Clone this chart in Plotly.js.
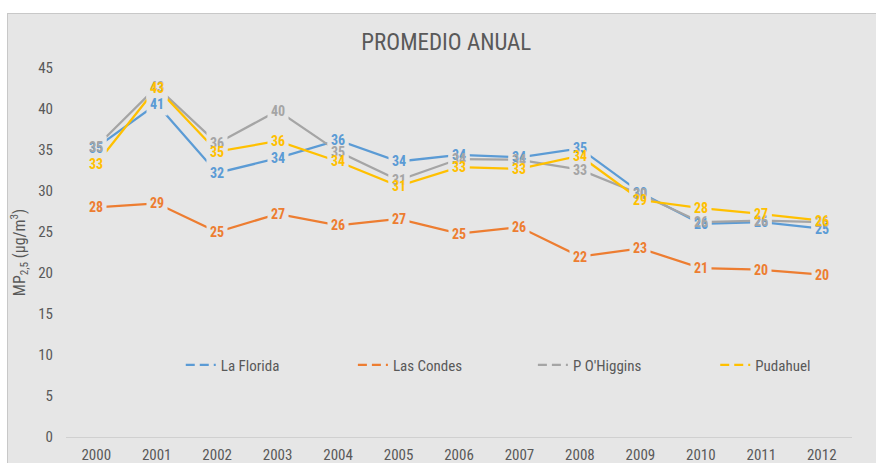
<!DOCTYPE html>
<html>
<head>
<meta charset="utf-8">
<script src="https://cdn.plot.ly/plotly-3.0.1.min.js"></script>
<style>
  html, body { margin: 0; padding: 0; background: #ffffff; }
  #chart { position: absolute; left: 7px; top: 13px; width: 868px; height: 449px;
           border-left: 1px solid #c8c8c8; border-top: 1px solid #c8c8c8; background: #e6e6e6; }
</style>
</head>
<body>
<div id="chart"></div>
<script>
// ---- data ----
const years = ["2000","2001","2002","2003","2004","2005","2006","2007","2008","2009","2010","2011","2012"];
const seriesNames = ["La Florida", "Las Condes", "P O'Higgins", "Pudahuel"];
const laFlorida  = [35.3, 40.6, 32.2, 34.0, 36.2, 33.6, 34.4, 34.1, 35.2, 29.8, 26.0, 26.2, 25.4];
const lasCondes  = [28.0, 28.5, 25.0, 27.2, 25.8, 26.6, 24.8, 25.6, 22.0, 23.0, 20.6, 20.4, 19.8];
const pOHiggins  = [35.4, 42.7, 35.8, 39.8, 34.8, 31.3, 33.9, 33.8, 32.6, 29.6, 26.2, 26.4, 26.2];
const pudahuel   = [33.3, 42.6, 34.8, 36.1, 33.6, 30.6, 32.9, 32.7, 34.3, 28.9, 27.9, 27.2, 26.4];
const yTicks = [0, 5, 10, 15, 20, 25, 30, 35, 40, 45];

// ---- style ----
const colors = ["#5b9bd5", "#ed7d31", "#a5a5a5", "#ffc000"];
const values = [laFlorida, lasCondes, pOHiggins, pudahuel];
const FONT = "'Liberation Sans Narrow', 'Arial Narrow', 'Roboto Condensed', 'Open Sans', sans-serif";
const BG = "#e6e6e6";
const legendIds = ["legend", "legend2", "legend3", "legend4"];
const legendX = [0.146, 0.365, 0.594, 0.826];

const traces = [];
values.forEach((v, i) => {
  traces.push({
    x: years, y: v, type: "scatter", mode: "lines",
    line: { color: colors[i], width: 2.25 },
    showlegend: false, hoverinfo: "skip"
  });
});
// legend entries (dashed symbol as in reference)
values.forEach((v, i) => {
  traces.push({
    x: [null], y: [null], type: "scatter", mode: "lines", name: seriesNames[i],
    line: { color: colors[i], width: 2.25, dash: "9px,5px" },
    showlegend: true, legend: legendIds[i]
  });
});

// data labels: first a layer of background boxes (cut the lines), then the texts on top
const bgBoxes = [];
const labelTexts = [];
values.forEach((v, i) => {
  v.forEach((val, j) => {
    const txt = "<b>" + Math.round(val) + "</b>";
    bgBoxes.push({
      x: j, y: val, xref: "x", yref: "y", text: txt,
      showarrow: false, bgcolor: BG, borderpad: 3,
      font: { family: FONT, size: 14, color: "rgba(0,0,0,0)" }
    });
    labelTexts.push({
      x: j, y: val, xref: "x", yref: "y", text: txt,
      showarrow: false, borderpad: 3,
      font: { family: FONT, size: 14, color: colors[i] }
    });
  });
});

const layout = {
  width: 868, height: 449,
  margin: { l: 58, r: 24, t: 54, b: 26 },
  paper_bgcolor: BG, plot_bgcolor: BG,
  font: { family: FONT, color: "#595959", size: 15 },
  title: { text: "PROMEDIO ANUAL", x: 0.505, xanchor: "center", y: 0.937, yanchor: "middle",
           font: { family: FONT, size: 23, color: "#595959" } },
  xaxis: {
    type: "category", range: [-0.5, 12.5], showgrid: false, zeroline: false,
    showline: true, linecolor: "#d0d0d0", linewidth: 1,
    ticks: "", ticklabelstandoff: 4, tickfont: { family: FONT, size: 15, color: "#595959" }, fixedrange: true
  },
  yaxis: {
    range: [0, 45], tickvals: yTicks, showgrid: false, zeroline: false, showline: false,
    ticks: "", ticklabelstandoff: 12, tickfont: { family: FONT, size: 15, color: "#595959" },
    title: { text: "MP<sub>2,5</sub> (µg/m<sup>3</sup>)", standoff: 10,
             font: { family: FONT, size: 16, color: "#595959" } },
    fixedrange: true
  },
  annotations: bgBoxes.concat(labelTexts),
  showlegend: true
};
legendIds.forEach((id, i) => {
  layout[id] = {
    orientation: "h", x: legendX[i], xanchor: "left", y: 0.195, yanchor: "middle",
    bgcolor: "rgba(0,0,0,0)", font: { family: FONT, size: 15, color: "#595959" },
    itemwidth: 30
  };
});

Plotly.newPlot("chart", traces, layout, { displayModeBar: false, staticPlot: true });
</script>
</body>
</html>
